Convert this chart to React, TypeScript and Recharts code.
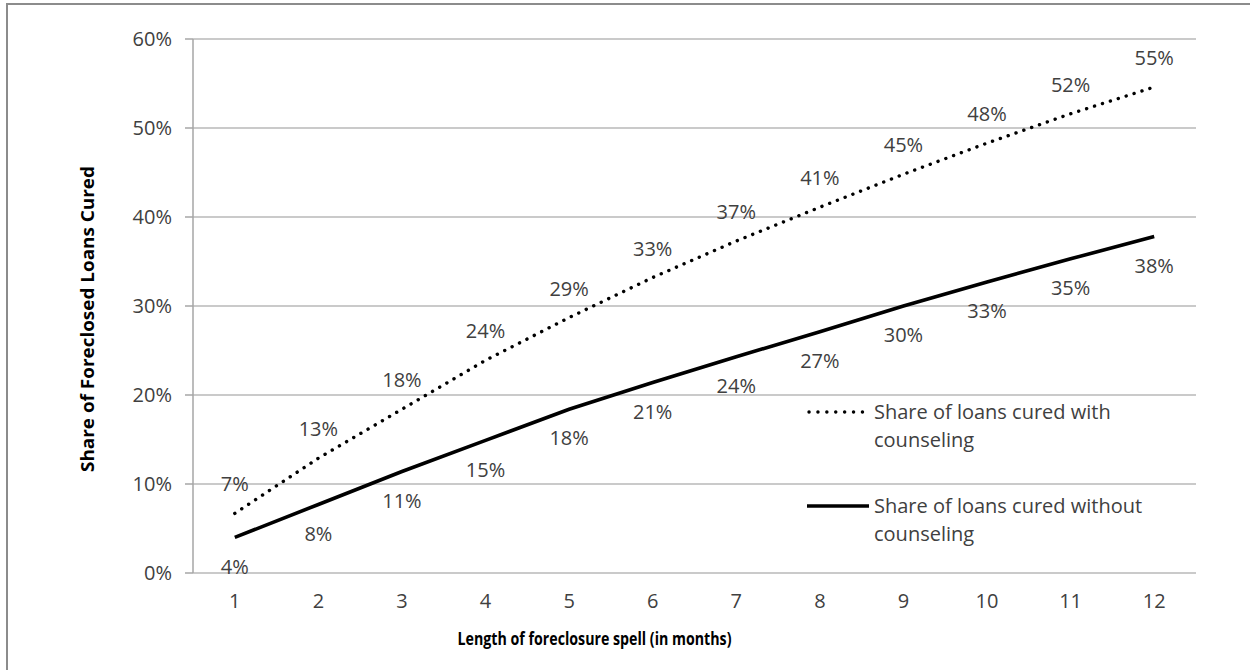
import React, { useLayoutEffect } from 'react';
import { LineChart, Line, XAxis, YAxis, CartesianGrid, LabelList, Legend } from 'recharts';

const months = [1, 2, 3, 4, 5, 6, 7, 8, 9, 10, 11, 12];
const withCounseling = [6.7, 12.9, 18.4, 23.9, 28.7, 33.2, 37.3, 41.1, 44.8, 48.3, 51.6, 54.6];
const withoutCounseling = [4.0, 7.7, 11.4, 14.9, 18.4, 21.4, 24.3, 27.1, 30.0, 32.7, 35.3, 37.8];
const yTicks = [0, 10, 20, 30, 40, 50, 60];
const seriesNames = ['Share of loans cured with counseling', 'Share of loans cured without counseling'];
const yTitle = 'Share of Foreclosed Loans Cured';
const xTitle = 'Length of foreclosure spell (in months)';

const data = months.map((m, i) => ({ month: m, withC: withCounseling[i], withoutC: withoutCounseling[i] }));
const boundaries = months.map((m) => m - 0.5).concat([months[months.length - 1] + 0.5]);

const FONT = '"Open Sans", "Noto Sans", sans-serif';
const TEXT = '#404040';
const AXIS = '#a6a6a6';
const GRID = '#b8b8b8';
const FS = 20;

if (typeof document !== 'undefined') {
  document.body.style.margin = '0';
}

const pct = (v: any) => `${Math.round(Number(v))}%`;

const LegendBox = () => (
  <div style={{ fontFamily: FONT, fontSize: FS, color: TEXT, lineHeight: '28px' }}>
    <div style={{ display: 'flex', marginBottom: 38 }}>
      <svg width={67} height={28} style={{ flex: 'none' }}>
        <line x1={2} y1={14} x2={56} y2={14} stroke="#000" strokeWidth={3.4} strokeDasharray="0.1 8.8" strokeLinecap="round" />
      </svg>
      <div style={{ width: 320 }}>{seriesNames[0]}</div>
    </div>
    <div style={{ display: 'flex' }}>
      <svg width={67} height={28} style={{ flex: 'none' }}>
        <line x1={0} y1={14} x2={62} y2={14} stroke="#000" strokeWidth={3.6} />
      </svg>
      <div style={{ width: 320 }}>{seriesNames[1]}</div>
    </div>
  </div>
);

const YTitle = (props: any) => {
  const vb = props.viewBox || { x: 0, y: 0, width: 0, height: 0 };
  const cx = vb.x + 87;
  const cy = vb.y + vb.height / 2 + 13;
  return (
    <text x={cx} y={cy} transform={`rotate(-90 ${cx} ${cy})`} textAnchor="middle" dominantBaseline="central"
      fontFamily={FONT} fontWeight={700} fontSize={17} fill="#000" textLength={306} lengthAdjust="spacingAndGlyphs">
      {yTitle}
    </text>
  );
};

const XTitle = (props: any) => {
  const vb = props.viewBox || { x: 0, y: 0, width: 0, height: 0 };
  const cx = vb.x + vb.width / 2 - 100;
  const cy = vb.y + 65;
  return (
    <text x={cx} y={cy} textAnchor="middle" dominantBaseline="central"
      fontFamily={FONT} fontWeight={700} fontSize={17} fill="#000" textLength={274} lengthAdjust="spacingAndGlyphs">
      {xTitle}
    </text>
  );
};

export default function App() {
  useLayoutEffect(() => {
    document.body.style.margin = '0';
  }, []);
  return (
    <div style={{ position: 'relative', width: 1250, height: 670, overflow: 'hidden', background: '#fff' }}>
      <div style={{ position: 'absolute', left: 0, top: 0 }}>
        <LineChart width={1250} height={670} data={data} margin={{ top: 39, right: 54, bottom: 67, left: 0 }}>
          <CartesianGrid vertical={false} stroke={GRID} strokeWidth={1.3} />
          <XAxis xAxisId="b" dataKey="month" type="number" domain={[0.5, 12.5]} ticks={boundaries} interval={0}
            height={0} tickSize={7} tickFormatter={() => ''} stroke={AXIS} strokeWidth={1.5}
            tickLine={{ stroke: AXIS, strokeWidth: 1.5 }} axisLine={{ stroke: AXIS, strokeWidth: 1.5 }} />
          <XAxis dataKey="month" type="number" domain={[0.5, 12.5]} ticks={months} interval={0}
            height={30} tickSize={7} tickMargin={14} tickLine={false} axisLine={false}
            tick={{ fill: TEXT, fontSize: FS, fontFamily: FONT }} label={<XTitle />} />
          <YAxis domain={[0, 60]} ticks={yTicks} interval={0} width={193} tickSize={8} tickMargin={13}
            tickFormatter={(v: any) => `${v}%`} tick={{ fill: TEXT, fontSize: FS, fontFamily: FONT }}
            tickLine={{ stroke: AXIS, strokeWidth: 1.5 }} axisLine={{ stroke: AXIS, strokeWidth: 1.5 }} label={<YTitle />} />
          <Legend layout="horizontal" verticalAlign="middle" align="center" content={() => <LegendBox />}
            wrapperStyle={{ left: 807, top: 398, width: 400, height: 150 }} />
          <Line type="linear" dataKey="withC" name={seriesNames[0]} stroke="#000" strokeWidth={3.4}
            strokeDasharray="0.1 8.2" strokeLinecap="round" dot={false} activeDot={false} isAnimationActive={false}>
            <LabelList dataKey="withC" position="top" offset={22} formatter={pct} fill={TEXT} fontSize={FS} fontFamily={FONT} />
          </Line>
          <Line type="linear" dataKey="withoutC" name={seriesNames[1]} stroke="#000" strokeWidth={3.6}
            dot={false} activeDot={false} isAnimationActive={false}>
            <LabelList dataKey="withoutC" position="bottom" offset={22} formatter={pct} fill={TEXT} fontSize={FS} fontFamily={FONT} />
          </Line>
        </LineChart>
      </div>
      <svg width={1250} height={670} style={{ position: 'absolute', left: 0, top: 0, zIndex: 10, pointerEvents: 'none' }}>
        <polyline points="7,670 7,4 1250,4" fill="none" stroke="#8c8c8c" strokeWidth={2} />
      </svg>
    </div>
  );
}
